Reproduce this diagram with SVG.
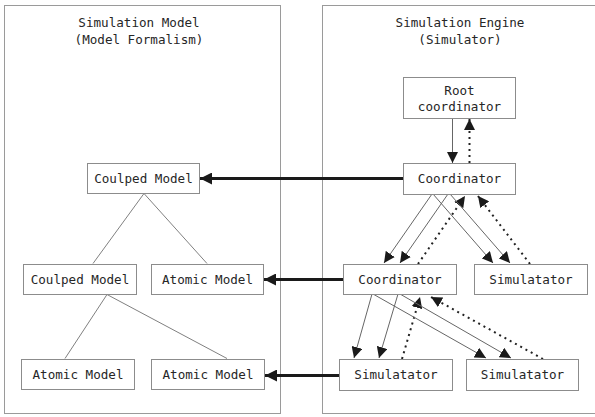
<svg xmlns="http://www.w3.org/2000/svg" width="595" height="417" viewBox="0 0 595 417">
  <style>
    .panel { fill: #fff; stroke: #9a9a9a; stroke-width: 1; }
    .box { fill: #fff; stroke: #8c8c8c; stroke-width: 1; }
    text { font-family: "DejaVu Sans Mono", "Liberation Mono", monospace; font-size: 12.6px; fill: #262626; text-anchor: middle; }
    .tree { stroke: #808080; stroke-width: 1; fill: none; }
    .call { stroke: #666; stroke-width: 1; fill: none; marker-end: url(#tip); }
    .reply { stroke: #222; stroke-width: 2; stroke-dasharray: 2 4; fill: none; marker-end: url(#tip); }
    .map { stroke: #1a1a1a; stroke-width: 3; fill: none; marker-end: url(#bigtip); }
  </style>
  <defs>
    <marker id="tip" viewBox="0 0 10 10" refX="10" refY="5" markerWidth="11" markerHeight="11" markerUnits="userSpaceOnUse" orient="auto">
      <path d="M0,0 L10,5 L0,10 z" fill="#1a1a1a"/>
    </marker>
    <marker id="bigtip" viewBox="0 0 10 10" refX="10" refY="5" markerWidth="12" markerHeight="12" markerUnits="userSpaceOnUse" orient="auto">
      <path d="M0,0 L10,5 L0,10 z" fill="#1a1a1a"/>
    </marker>
  </defs>
  <rect width="595" height="417" fill="#fff"/>

  <!-- panels -->
  <g id="model-panel">
    <rect class="panel" x="4.5" y="5.5" width="276" height="408"/>
    <text x="139" y="27">Simulation Model</text>
    <text x="139" y="44">(Model Formalism)</text>
  </g>
  <g id="engine-panel">
    <rect class="panel" x="322.5" y="5.5" width="290" height="408"/>
    <text x="460" y="27">Simulation Engine</text>
    <text x="460" y="44">(Simulator)</text>
  </g>

  <!-- connectors -->
  <g id="connectors">
    <!-- model hierarchy -->
    <line class="tree" x1="144" y1="193.5" x2="93" y2="263.5"/>
    <line class="tree" x1="144" y1="193.5" x2="207" y2="263.5"/>
    <line class="tree" x1="107" y1="294.5" x2="65" y2="358.5"/>
    <line class="tree" x1="107" y1="294.5" x2="227" y2="358.5"/>

    <!-- engine to model mapping -->
    <line class="map" x1="403" y1="178.5" x2="200" y2="178.5"/>
    <line class="map" x1="343" y1="279.5" x2="264" y2="279.5"/>
    <line class="map" x1="339" y1="375.5" x2="265" y2="375.5"/>

    <!-- root coordinator / coordinator -->
    <line class="call" x1="452.5" y1="118" x2="452.5" y2="163"/>
    <line class="reply" x1="469.5" y1="163" x2="469.5" y2="119"/>

    <!-- coordinator to children -->
    <line class="call" x1="432" y1="194" x2="384" y2="263"/>
    <line class="call" x1="448" y1="194" x2="400" y2="263"/>
    <line class="reply" x1="418" y1="264" x2="465" y2="196"/>
    <line class="call" x1="433" y1="194" x2="493" y2="263"/>
    <line class="call" x1="450" y1="194" x2="510" y2="263"/>
    <line class="reply" x1="530" y1="264" x2="478" y2="196"/>

    <!-- lower coordinator to simulators -->
    <line class="call" x1="372" y1="294" x2="354" y2="358"/>
    <line class="call" x1="398" y1="294" x2="379" y2="358"/>
    <line class="reply" x1="402" y1="359" x2="420" y2="297"/>
    <line class="call" x1="373" y1="294" x2="486" y2="358"/>
    <line class="call" x1="400" y1="294" x2="511" y2="358"/>
    <line class="reply" x1="543" y1="359" x2="431" y2="297"/>
  </g>

  <!-- model nodes -->
  <g id="coupled-top">
    <rect class="box" x="87.5" y="163.5" width="112" height="30"/>
    <text x="143.5" y="183">Coulped Model</text>
  </g>
  <g id="coupled-mid">
    <rect class="box" x="23.5" y="264.5" width="113" height="30"/>
    <text x="80" y="284">Coulped Model</text>
  </g>
  <g id="atomic-mid">
    <rect class="box" x="151.5" y="264.5" width="112" height="30"/>
    <text x="207.5" y="284">Atomic Model</text>
  </g>
  <g id="atomic-bottom-left">
    <rect class="box" x="21.5" y="359.5" width="113" height="30"/>
    <text x="78" y="379">Atomic Model</text>
  </g>
  <g id="atomic-bottom-right">
    <rect class="box" x="151.5" y="359.5" width="113" height="30"/>
    <text x="208" y="379">Atomic Model</text>
  </g>

  <!-- engine nodes -->
  <g id="root-coordinator">
    <rect class="box" x="403.5" y="77.5" width="112" height="41"/>
    <text x="459.5" y="95">Root</text>
    <text x="459.5" y="111">coordinator</text>
  </g>
  <g id="coordinator-top">
    <rect class="box" x="403.5" y="163.5" width="112" height="31"/>
    <text x="459.5" y="183">Coordinator</text>
  </g>
  <g id="coordinator-mid">
    <rect class="box" x="343.5" y="264.5" width="113" height="30"/>
    <text x="400" y="284">Coordinator</text>
  </g>
  <g id="simulator-mid">
    <rect class="box" x="474.5" y="264.5" width="113" height="30"/>
    <text x="531" y="284">Simulatator</text>
  </g>
  <g id="simulator-bottom-left">
    <rect class="box" x="339.5" y="359.5" width="113" height="31"/>
    <text x="396" y="379">Simulatator</text>
  </g>
  <g id="simulator-bottom-right">
    <rect class="box" x="466.5" y="359.5" width="112" height="31"/>
    <text x="522.5" y="379">Simulatator</text>
  </g>
</svg>
